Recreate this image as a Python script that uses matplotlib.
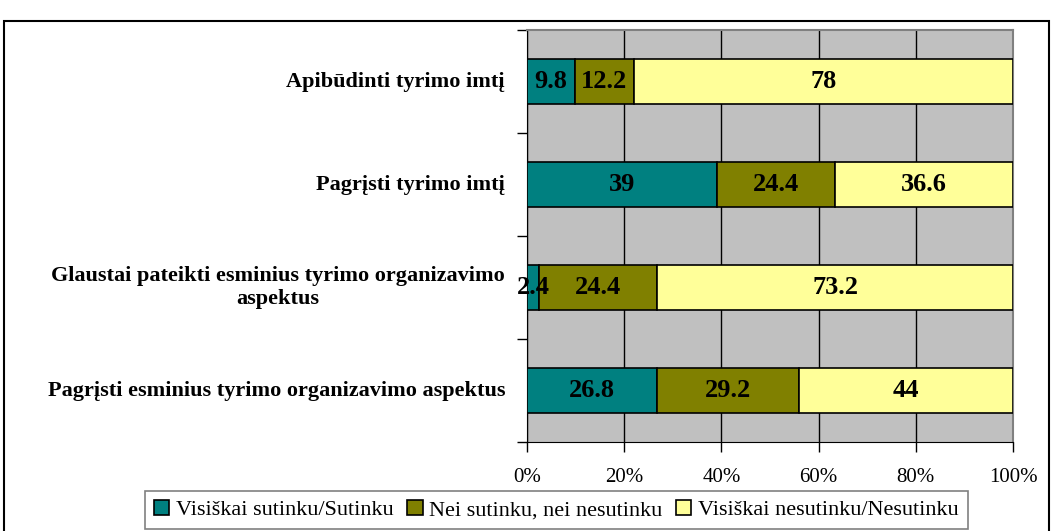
import matplotlib.pyplot as plt
import matplotlib.transforms as mtransforms
from matplotlib.patches import Rectangle

plt.rcParams['font.family'] = ['Liberation Serif', 'DejaVu Serif']

categories = [
    'Pagrįsti esminius tyrimo organizavimo aspektus',
    'Glaustai pateikti esminius tyrimo organizavimo\naspektus',
    'Pagrįsti tyrimo imtį',
    'Apibūdinti tyrimo imtį',
]
agree = [26.8, 2.4, 39, 9.8]
neutral = [29.2, 24.4, 24.4, 12.2]
disagree = [44, 73.2, 36.6, 78]
agree_labels = ['26.8', '2.4', '39', '9.8']
neutral_labels = ['29.2', '24.4', '24.4', '12.2']
disagree_labels = ['44', '73.2', '36.6', '78']
series_names = ['Visiškai sutinku/Sutinku', 'Nei sutinku, nei nesutinku',
                'Visiškai nesutinku/Nesutinku']
colors = ['#008080', '#808000', '#FFFF99']

fig = plt.figure(figsize=(10.52, 5.31), dpi=100)
ax = fig.add_axes([0.501, 0.1676, 0.462, 0.7759])
ax.set_facecolor('#C0C0C0')

y = range(len(categories))
h = 0.43
left = [0] * len(categories)
for vals, labs, col, name in zip([agree, neutral, disagree],
                                 [agree_labels, neutral_labels, disagree_labels],
                                 colors, series_names):
    bars = ax.barh(y, vals, height=h, left=left, color=col, edgecolor='black',
                   linewidth=1.2, label=name, zorder=3)
    for b, lab in zip(bars, labs):
        ax.text(b.get_x() + b.get_width() / 2, b.get_y() + b.get_height() / 2,
                lab, ha='center', va='center', fontsize=19, fontweight='bold',
                zorder=4, clip_on=False)
    left = [l + v for l, v in zip(left, vals)]

ax.set_xlim(0, 100)
ax.set_ylim(-0.5, 3.5)
ax.set_xticks([0, 20, 40, 60, 80, 100])
ax.set_xticklabels(['0%', '20%', '40%', '60%', '80%', '100%'], fontsize=15)
ax.xaxis.grid(True, color='black', linewidth=1, zorder=1)
ax.set_axisbelow(True)

# ticks sit on the category boundaries, labels are drawn separately
ax.set_yticks([-0.5, 0.5, 1.5, 2.5, 3.5])
ax.set_yticklabels([])
ax.tick_params(axis='y', length=7, width=1, direction='out')
ax.tick_params(axis='x', length=7, width=1, direction='out', pad=12)

trans = mtransforms.blended_transform_factory(fig.transFigure, ax.transData)
for i, c in enumerate(categories):
    ax.text(505 / 1052, i, c, ha='right', va='center', multialignment='center',
            fontsize=16, fontweight='bold', transform=trans, linespacing=1.2)

for s in ['top', 'right']:
    ax.spines[s].set_color('#808080')
    ax.spines[s].set_linewidth(1.5)
ax.spines['left'].set_color('black')
ax.spines['bottom'].set_color('black')

leg = fig.legend(loc='upper left', bbox_to_anchor=(145 / 1052, 1 - 491 / 531), ncol=3,
                 frameon=True, fontsize=16, handlelength=0.7, handleheight=0.7,
                 handletextpad=0.3, columnspacing=0.6, borderpad=0.4,
                 borderaxespad=0, fancybox=False)
leg.get_frame().set_edgecolor('#606060')
leg.get_frame().set_linewidth(1.2)

fig.patches.append(Rectangle((0.004, -0.01), 0.993, 0.9712, transform=fig.transFigure,
                             fill=False, edgecolor='black', linewidth=1.5))

fig.savefig('out.png', dpi=100)
